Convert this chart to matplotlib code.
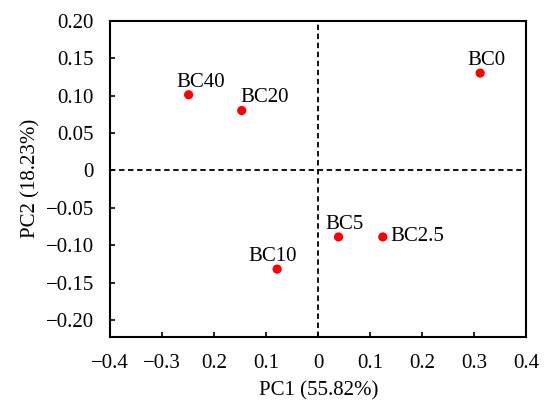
import matplotlib
matplotlib.use('Agg')
import matplotlib.pyplot as plt

# PCA scores
samples = ['BC0', 'BC40', 'BC20', 'BC5', 'BC2.5', 'BC10']
pc1 = [0.311, -0.249, -0.147, 0.039, 0.124, -0.079]
pc2 = [0.130, 0.101, 0.080, -0.089, -0.089, -0.132]

x_ticks = [-0.4, -0.3, -0.2, -0.1, 0, 0.1, 0.2, 0.3, 0.4]
x_tick_labels = ['\u22120.4', '\u22120.3', '0.2', '0.1', '0', '0.1', '0.2', '0.3', '0.4']
y_ticks = [-0.20, -0.15, -0.10, -0.05, 0, 0.05, 0.10, 0.15, 0.20]
y_tick_labels = ['\u22120.20', '\u22120.15', '\u22120.10', '\u22120.05', '0',
                 '0.05', '0.10', '0.15', '0.20']

# label offsets in pixels (dx, dy, ha)
label_pos = {
    'BC0': (6, 8, 'center'),
    'BC40': (12, 8, 'center'),
    'BC20': (23, 9, 'center'),
    'BC5': (6, 8, 'center'),
    'BC2.5': (8, -4, 'left'),
    'BC10': (-4, 8, 'center'),
}

plt.rcParams['font.family'] = ['Liberation Serif', 'DejaVu Serif']
plt.rcParams['font.size'] = 15

fig = plt.figure(figsize=(5.47, 4.03), dpi=100)
ax = fig.add_axes([0.2011, 0.1638, 0.7614, 0.7848])

ax.axhline(0, color='black', linestyle=(0, (3, 2)), linewidth=1.3, zorder=1)
ax.axvline(0, color='black', linestyle=(0, (3, 2)), linewidth=1.3, zorder=1)

ax.scatter(pc1, pc2, s=44, color='#ff0000', edgecolors='none', zorder=3)

for name, x, y in zip(samples, pc1, pc2):
    dx, dy, ha = label_pos[name]
    ax.annotate(name, (x, y), xytext=(dx, dy), textcoords='offset pixels',
                ha=ha, va='baseline', fontsize=15)

ax.set_xlim(-0.4, 0.4)
ax.set_ylim(-0.2227, 0.2)
ax.set_xticks(x_ticks)
ax.set_xticklabels(x_tick_labels)
ax.set_yticks(y_ticks)
ax.set_yticklabels(y_tick_labels)
ax.tick_params(direction='in', length=3.5, width=1.2)
ax.tick_params(axis='x', pad=12.5)
ax.tick_params(axis='y', pad=11.5)

for sp in ax.spines.values():
    sp.set_linewidth(1.5)

ax.set_xlabel('PC1 (55.82%)', labelpad=5.5)
ax.set_ylabel('PC2 (18.23%)', labelpad=4)

plt.savefig('out.png', dpi=100)
plt.close()
